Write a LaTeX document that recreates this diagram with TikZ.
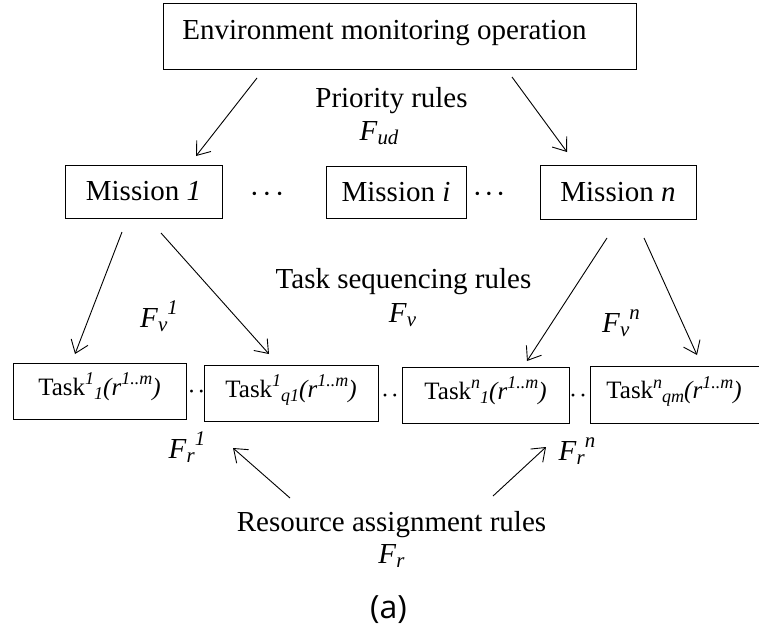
\documentclass[tikz,border=0pt]{standalone}
\usepackage{fontspec}
\setmainfont{Liberation Serif}
\newfontfamily\capfont{Open Sans}
\usetikzlibrary{arrows.meta}
\makeatletter
\newcommand\scr{\fontsize{0.72\dimexpr\f@size pt\relax}{1pt}\selectfont\itshape}
\makeatother
\newcommand\supi[1]{\raisebox{0.42em}{\scr #1}}
\newcommand\subi[1]{\raisebox{-0.16em}{\scr #1}}
\begin{document}
\begin{tikzpicture}[x=1pt,y=-1pt,
  box/.style={draw, line width=1pt, inner sep=0pt},
  big/.style={font=\fontsize{29}{34}\selectfont},
  tasktxt/.style={font=\fontsize{25}{29}\selectfont, text height=17pt, text depth=9pt},
  arr/.style={-{Straight Barb[length=12pt,width=18pt]}, line width=0.9pt},
  lbl/.style={anchor=base, inner sep=0pt, font=\fontsize{29}{34}\selectfont},
  dots/.style={anchor=base, inner sep=0pt, font=\fontsize{29}{34}\selectfont},
  tdots/.style={anchor=base, inner sep=0pt, font=\fontsize{24}{28}\selectfont},
]
\useasboundingbox (0,0) rectangle (759,632);

% top box
\node[box,big,minimum width=473pt,minimum height=66pt,text height=20pt,text depth=14pt]
  (env) at (399.5,36) {Environment monitoring operation\kern30pt};

% missions
\node[box,big,minimum width=157pt,minimum height=53pt] (m1) at (143.5,191.5) {Mission \textit{1}};
\node[box,big,minimum width=140pt,minimum height=52pt] (mi) at (396,192) {Mission \textit{i}};
\node[box,big,minimum width=156pt,minimum height=54pt] (mn) at (618,192) {Mission \textit{n}};
\node[dots] (md1) at (267,203) {·\hspace{3pt}·\hspace{3pt}·};
\node[dots] (md2) at (489,203) {·\hspace{2pt}·\hspace{2pt}·};

% tasks
\node[box,tasktxt,minimum width=173pt,minimum height=56pt] (t11) at (99.5,391)
  {Task\supi{1}\subi{1}\textit{(r}\supi{1..m}\textit{)}};
\node[box,tasktxt,minimum width=174pt,minimum height=56pt] (t1q) at (291,393)
  {Task\supi{1}\subi{q1}\textit{(r}\supi{1..m}\textit{)}};
\node[box,tasktxt,minimum width=167pt,minimum height=56pt] (tn1) at (485.5,395)
  {Task\supi{n}\subi{1}\textit{(r}\supi{1..m}\textit{)}};
\node[box,tasktxt,minimum width=182pt,minimum height=57pt] (tnq) at (681,394.5)
  {Task\supi{n}\subi{qm}\textit{(r}\supi{1..m}\textit{)}\kern14pt};
\node[tdots] (td1) at (196.5,399) {·\hspace{2pt}·};
\node[tdots] (td2) at (390,403) {·\hspace{2pt}·};
\node[tdots] (td3) at (578,403) {·\hspace{2pt}·};

% labels
\node[lbl] (pr)  at (391.5,107) {Priority rules};
\node[lbl] (fud) at (379,140) {\textit{F}\subi{ud}};
\node[lbl] (tsr) at (403.5,288) {Task sequencing rules};
\node[lbl] (fv)  at (402.5,322) {\textit{F}\subi{v}};
\node[lbl] (fv1) at (159,327) {\textit{F}\subi{v}\supi{1}};
\node[lbl] (fvn) at (621,332) {\textit{F}\subi{v}\supi{n}};
\node[lbl] (fr1) at (187,458) {\textit{F}\subi{r}\supi{1}};
\node[lbl] (frn) at (577,460) {\textit{F}\subi{r}\supi{n}};
\node[lbl] (rar) at (391.5,531) {Resource assignment rules};
\node[lbl] (fr)  at (391.5,563) {\textit{F}\subi{r}};
\node[anchor=base, inner sep=0pt, font=\capfont\fontsize{32}{36}\selectfont] (cap) at (388.5,618) {(a)};

% connector ends
\coordinate (e1) at (257,78);   \coordinate (m1in) at (196,156);
\coordinate (e2) at (512,77);   \coordinate (mnin) at (567,152);
\coordinate (m1a) at (122,232); \coordinate (t11in) at (75,354);
\coordinate (m1b) at (161,233); \coordinate (t1qin) at (269,354);
\coordinate (mna) at (607,238); \coordinate (tn1in) at (527,361);
\coordinate (mnb) at (644,238); \coordinate (tnqin) at (697,355);
\coordinate (r1) at (290,498);  \coordinate (t1qup) at (233,448);
\coordinate (r2) at (493,496);  \coordinate (tn1up) at (546,447);

\draw[arr] (e1) -- (m1in);
\draw[arr] (e2) -- (mnin);
\draw[arr] (m1a) -- (t11in);
\draw[arr] (m1b) -- (t1qin);
\draw[arr] (mna) -- (tn1in);
\draw[arr] (mnb) -- (tnqin);
\draw[arr] (r1) -- (t1qup);
\draw[arr] (r2) -- (tn1up);
\end{tikzpicture}
\end{document}
